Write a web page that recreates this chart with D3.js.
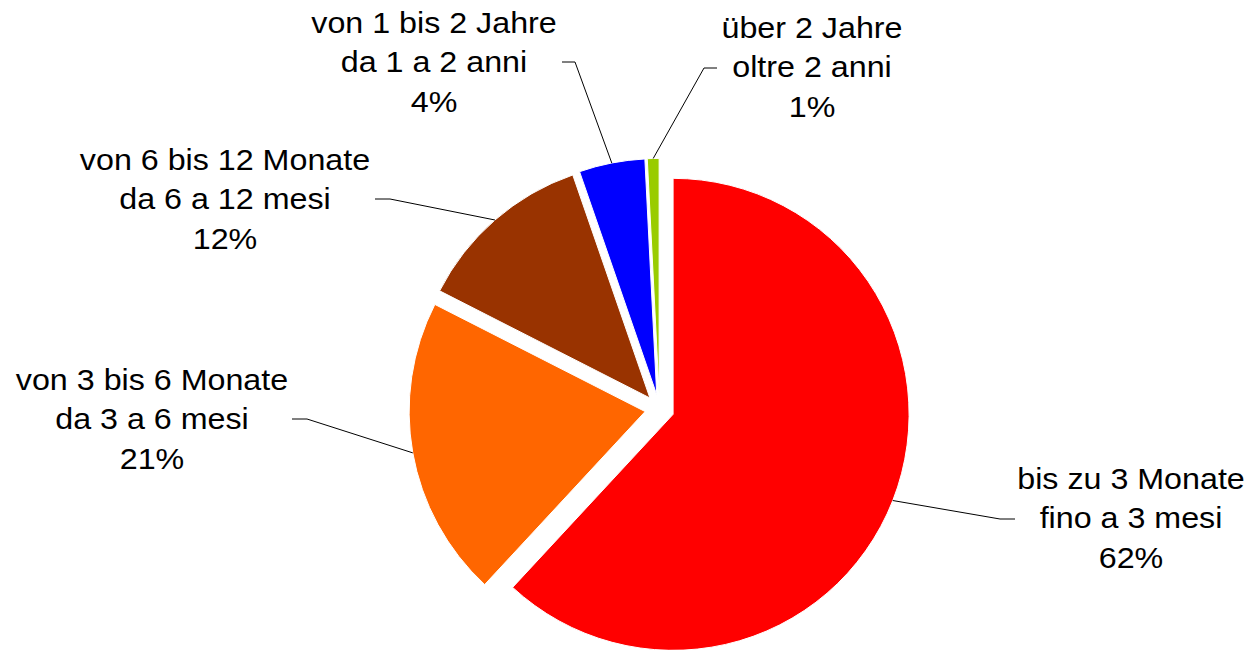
<!DOCTYPE html>
<html>
<head>
<meta charset="utf-8">
<script src="https://cdn.jsdelivr.net/npm/d3@7/dist/d3.min.js"></script>
<style>
  html, body { margin: 0; padding: 0; background: #fff; }
  svg { display: block; }
  text { font-family: "Liberation Sans", Arial, sans-serif; fill: #000; }
</style>
</head>
<body>
<svg id="chart" width="1252" height="650"></svg>
<script>
// ---- data ----
const categoriesDe = ["bis zu 3 Monate", "von 3 bis 6 Monate", "von 6 bis 12 Monate", "von 1 bis 2 Jahre", "über 2 Jahre"];
const categoriesIt = ["fino a 3 mesi", "da 3 a 6 mesi", "da 6 a 12 mesi", "da 1 a 2 anni", "oltre 2 anni"];
const values = [61.9, 20.6, 12.2, 4.5, 0.8];
const percentLabels = ["62%", "21%", "12%", "4%", "1%"];
const colors = ["#FF0000", "#FF6600", "#993300", "#0000FF", "#99CC00"];

// ---- layout (positions / styles) ----
const W = 1252, H = 650;
const center = [659.5, 409];
const radius = 236;
const explode = 14.6;
const fontSize = 30;
const textStretch = 1.075;
const lineGap = 39.3;
// label block: centre x, first baseline y; leader elbow and end of horizontal tick
const labelLayout = [
  { x: 1131, y: 489, elbow: [1000, 519], end: [1015, 519] },
  { x: 152,  y: 390, elbow: [307, 419],  end: [292, 419] },
  { x: 225,  y: 170, elbow: [390, 199],  end: [375, 199] },
  { x: 434,  y: 33,  elbow: [575, 62],   end: [562, 62] },
  { x: 812,  y: 38,  elbow: [704, 68],   end: [717, 68] }
];

const svg = d3.select("#chart");

const pie = d3.pie().sort(null).value(d => d).startAngle(0).endAngle(2 * Math.PI);
const arcs = pie(values);
const arc = d3.arc().innerRadius(0).outerRadius(radius);

const g = svg.append("g").attr("transform", `translate(${center[0]},${center[1]})`);

function offset(d, r) {
  const a = (d.startAngle + d.endAngle) / 2;
  return [Math.sin(a) * r, -Math.cos(a) * r];
}

g.selectAll("path.slice")
  .data(arcs)
  .join("path")
  .attr("class", "slice")
  .attr("d", arc)
  .attr("fill", (d, i) => colors[i])
  .attr("stroke", "#fff")
  .attr("stroke-width", 1)
  .attr("transform", d => {
    const [dx, dy] = offset(d, explode);
    return `translate(${dx},${dy})`;
  });

// leader lines
const lines = svg.append("g");
arcs.forEach((d, i) => {
  const [sx, sy] = offset(d, radius + explode);
  const L = labelLayout[i];
  lines.append("polyline")
    .attr("points", [[center[0] + sx, center[1] + sy], L.elbow, L.end].map(p => p.join(",")).join(" "))
    .attr("fill", "none")
    .attr("stroke", "#000")
    .attr("stroke-width", 1);
});

// labels
const labels = svg.append("g");
arcs.forEach((d, i) => {
  const L = labelLayout[i];
  const t = labels.append("text")
    .attr("text-anchor", "middle")
    .attr("font-size", fontSize)
    .attr("transform", `translate(${L.x},${L.y}) scale(${textStretch},1)`);
  [categoriesDe[i], categoriesIt[i], percentLabels[i]].forEach((s, k) => {
    t.append("tspan").attr("x", 0).attr("y", k * lineGap).text(s);
  });
});
</script>
</body>
</html>
